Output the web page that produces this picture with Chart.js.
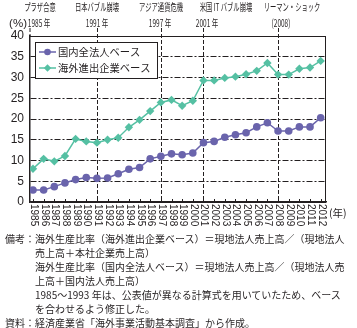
<!DOCTYPE html>
<html lang="ja">
<head>
<meta charset="utf-8">
<title>海外生産比率の推移</title>
<script src="https://cdn.jsdelivr.net/npm/chart.js@4.4.1/dist/chart.umd.min.js"></script>
<style>
  html, body { margin: 0; padding: 0; background: #fff; }
  .wrap { position: relative; width: 357px; height: 328px; overflow: hidden; }
  #chart { position: absolute; left: 0; top: 0; }
  .notes {
    position: absolute; left: 5px; top: 232px; width: 352px;
    font: 10px/14px "Noto Sans CJK JP", sans-serif; color: #231f20;
  }
  .notes p { margin: 0; white-space: nowrap; }
  .notes .ind { padding-left: 30px; }
</style>
</head>
<body>
<div class="wrap">
  <canvas id="chart" width="357" height="328"></canvas>
  <div class="notes">
    <p>備考：海外生産比率（海外進出企業ベース）＝現地法人売上高／（現地法人</p>
    <p class="ind">売上高＋本社企業売上高）</p>
    <p class="ind">海外生産比率（国内全法人ベース）＝現地法人売上高／（現地法人売</p>
    <p class="ind">上高＋国内法人売上高）</p>
    <p class="ind">1985～1993 年は、公表値が異なる計算式を用いていたため、ベース</p>
    <p class="ind">を合わせるよう修正した。</p>
    <p>資料：経済産業省「海外事業活動基本調査」から作成。</p>
  </div>
</div>
<script>
// ========================
// DONNÉES
// ========================
const years = [1985, 1986, 1987, 1988, 1989, 1990, 1991, 1992, 1993, 1994, 1995, 1996, 1997, 1998,
               1999, 2000, 2001, 2002, 2003, 2004, 2005, 2006, 2007, 2008, 2009, 2010, 2011, 2012];
const domestic = [2.9, 2.9, 3.7, 4.6, 5.4, 5.9, 5.7, 5.8, 6.8, 7.9, 8.3, 10.4, 11.0, 11.6,
                  11.4, 11.8, 14.3, 14.6, 15.6, 16.2, 16.7, 18.1, 19.1, 17.1, 17.1, 18.1, 18.1, 20.3];
const overseas = [8.0, 10.4, 9.8, 11.1, 15.2, 14.6, 14.3, 15.0, 15.5, 18.0, 19.8, 21.9, 24.0, 24.6,
                  23.2, 24.4, 29.3, 29.3, 29.9, 30.2, 30.8, 31.6, 33.5, 30.7, 30.7, 32.1, 32.4, 34.0];
const seriesNames = ['国内全法人ベース', '海外進出企業ベース'];
const yTicks = [0, 5, 10, 15, 20, 25, 30, 35, 40];

// Événements (lignes verticales)
const eventYears = [1985, 1991, 1997, 2001, 2008];
const eventTitles = ['プラザ合意', '日本バブル崩壊', 'アジア通貨危機', '米国 IT バブル崩壊', 'リーマン・ショック'];
const eventSubs = ['1985 年', '1991 年', '1997 年', '2001 年', '(2008)'];

// ========================
// MISE EN PAGE
// ========================
const INK = '#231f20';
const PURPLE = '#6a64ac';
const TEAL = '#55c0a3';
const eventShift = [[10, 9], [0, 0], [0, -1], [23, 4], [14, 3]];

// Texte condensé (comme la police étroite de l'original)
function narrowText(ctx, text, x, y, sx) {
  ctx.save();
  ctx.translate(x, y);
  ctx.scale(sx, 1);
  ctx.textAlign = 'center';
  ctx.textBaseline = 'middle';
  ctx.fillText(text, 0, 0);
  ctx.restore();
}

const decorations = {
  id: 'decorations',
  beforeDatasetsDraw(chart) {
    const { ctx, chartArea, scales } = chart;
    ctx.save();
    ctx.strokeStyle = INK;
    ctx.lineWidth = 1;
    ctx.setLineDash([4, 2]);
    eventYears.forEach((yr, i) => {
      let x = Math.round(scales.x.getPixelForValue(yr)) + 0.5;
      let bottom = chartArea.bottom;
      if (i === 0) { x = chartArea.left; bottom = chartArea.top; }
      ctx.beginPath();
      ctx.moveTo(x, 28);
      ctx.lineTo(x, bottom);
      ctx.stroke();
    });
    ctx.restore();
  },
  afterDraw(chart) {
    const { ctx, chartArea, scales } = chart;
    const xs = scales.x;
    ctx.save();

    // cadre haut / droite
    ctx.strokeStyle = INK;
    ctx.lineWidth = 1;
    ctx.beginPath();
    ctx.moveTo(chartArea.left, chartArea.top + 0.5);
    ctx.lineTo(chartArea.right - 0.5, chartArea.top + 0.5);
    ctx.lineTo(chartArea.right - 0.5, chartArea.bottom);
    ctx.stroke();

    // graduations intérieures + années verticales
    ctx.fillStyle = INK;
    ctx.font = '10px "Liberation Sans Narrow", "Liberation Sans", sans-serif';
    ctx.textBaseline = 'middle';
    years.forEach(yr => {
      const x = Math.round(xs.getPixelForValue(yr)) + 0.5;
      ctx.beginPath();
      ctx.moveTo(x, chartArea.bottom);
      ctx.lineTo(x, chartArea.bottom - 3);
      ctx.stroke();
      ctx.save();
      ctx.translate(x, chartArea.bottom + 2);
      ctx.rotate(Math.PI / 2);
      ctx.textAlign = 'left';
      ctx.fillText(String(yr), 0, 0);
      ctx.restore();
    });

    ctx.font = '10.5px "Noto Sans CJK JP", sans-serif';
    ctx.textAlign = 'left';
    ctx.fillText('(年)', chartArea.right + 3, chartArea.bottom + 11);

    ctx.font = '11.5px "Liberation Sans", sans-serif';
    ctx.textAlign = 'right';
    ctx.fillText('(%)', 27, 24);

    // libellés des événements
    ctx.font = '10.5px "Noto Sans CJK JP", sans-serif';
    eventYears.forEach((yr, i) => {
      let x = Math.round(xs.getPixelForValue(yr));
      if (i === 0) x = chartArea.left;
      narrowText(ctx, eventTitles[i], x + eventShift[i][0], 7, 0.6);
      narrowText(ctx, eventSubs[i], x + eventShift[i][1], 23, 0.62);
    });

    // légende
    const lx = chartArea.left + 5, ly = chartArea.top + 6, lw = 122, lh = 36;
    ctx.fillStyle = '#fff';
    ctx.fillRect(lx, ly, lw, lh);
    ctx.strokeStyle = INK;
    ctx.lineWidth = 1;
    ctx.strokeRect(lx + 0.5, ly + 0.5, lw, lh);
    chart.data.datasets.forEach((ds, i) => {
      const yy = ly + 10 + i * 16;
      ctx.strokeStyle = ds.borderColor;
      ctx.lineWidth = 1.5;
      ctx.beginPath();
      ctx.moveTo(lx + 4, yy);
      ctx.lineTo(lx + 21, yy);
      ctx.stroke();
      ctx.fillStyle = ds.borderColor;
      Chart.helpers.drawPoint(ctx, { pointStyle: ds.pointStyle, radius: ds.pointRadius - 0.5, rotation: 0, borderWidth: 0 }, lx + 12.5, yy);
      ctx.fillStyle = INK;
      ctx.font = '10.3px "Noto Sans CJK JP", sans-serif';
      ctx.textAlign = 'left';
      ctx.textBaseline = 'middle';
      ctx.fillText(ds.label, lx + 23, yy);
    });
    ctx.restore();
  }
};

// ========================
// GRAPHIQUE
// ========================
Chart.defaults.font.family = '"Liberation Sans", sans-serif';
Chart.defaults.color = INK;

const toPoints = vals => years.map((yr, i) => ({ x: yr, y: vals[i] }));

new Chart(document.getElementById('chart'), {
  type: 'line',
  data: {
    datasets: [{
      label: seriesNames[0],
      data: toPoints(domestic),
      borderColor: PURPLE,
      backgroundColor: PURPLE,
      borderWidth: 1.5,
      pointStyle: 'circle',
      pointRadius: 3.8,
      pointBorderWidth: 0,
      tension: 0
    }, {
      label: seriesNames[1],
      data: toPoints(overseas),
      borderColor: TEAL,
      backgroundColor: TEAL,
      borderWidth: 1.5,
      pointStyle: 'rectRot',
      pointRadius: 4.2,
      pointBorderWidth: 0,
      tension: 0
    }]
  },
  options: {
    responsive: false,
    animation: false,
    layout: { padding: { top: 36, right: 31, bottom: 100, left: 0 } },
    plugins: { legend: { display: false }, tooltip: { enabled: false } },
    scales: {
      x: {
        type: 'linear',
        min: 1984.72,
        max: 2012.5,
        ticks: { display: false },
        grid: { display: false },
        border: { display: true, color: INK, width: 1.5 },
        afterFit: s => { s.height = 26; }
      },
      y: {
        min: 0,
        max: 40,
        afterBuildTicks: s => { s.ticks = yTicks.map(v => ({ value: v })); },
        ticks: { padding: 6, font: { size: 12 }, color: INK },
        grid: { color: INK, lineWidth: 1, drawTicks: false },
        border: {
          display: true, color: INK, width: 1.5,
          dash: c => (c.tick && c.tick.value > 0 && c.tick.value < 40) ? [6, 2, 2, 2] : []
        },
        afterFit: s => { s.width = 30; }
      }
    }
  },
  plugins: [decorations]
});
</script>
</body>
</html>
